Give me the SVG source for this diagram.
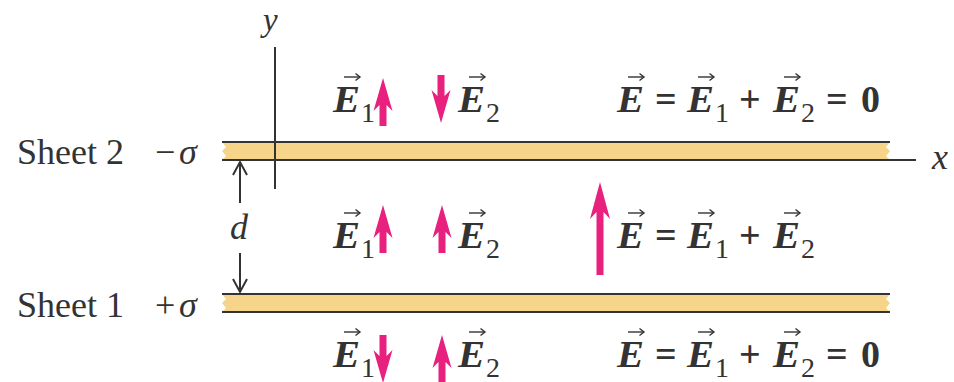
<svg xmlns="http://www.w3.org/2000/svg" width="954" height="382" viewBox="0 0 954 382">
<style>
.line{stroke:#333;stroke-width:2;fill:none}
.band{fill:#f6d48a;stroke:none}
.pink{fill:#e8217f}
.lbl{font-family:"Liberation Serif",serif;font-size:36px;fill:#333}
.it{font-family:"Liberation Serif",serif;font-style:italic;font-size:36px;fill:#333}
.ax{font-family:"Liberation Serif",serif;font-style:italic;font-size:33px;fill:#333}
.E{font-family:"Liberation Serif",serif;font-style:italic;font-weight:bold;font-size:37px;fill:#333}
.sub{font-family:"Liberation Serif",serif;font-size:28px;fill:#333}
.op{font-family:"Liberation Serif",serif;font-weight:bold;font-size:38px;fill:#333}
.vec{stroke:#333;stroke-width:1.4;fill:none}
</style>
<defs>
<path id="up48" d="M0,0 L9.5,33 L3.5,27 L3.5,48 L-3.5,48 L-3.5,27 L-9.5,33 Z"/>
<path id="dn48" d="M0,48 L9.5,15 L3.5,21 L3.5,0 L-3.5,0 L-3.5,21 L-9.5,15 Z"/>
<path id="up93" d="M0,0 L10,37 L3.5,30 L3.5,93 L-3.5,93 L-3.5,30 L-10,37 Z"/>
<g id="vec" class="vec"><line x1="0" y1="0" x2="16" y2="0"/><polyline points="11.5,-3.5 16,0 11.5,3.5"/></g>
</defs>
<rect width="954" height="382" fill="#fff"/>

<g id="sheet2">
<path class="band" d="M222,142 L890,142 L886,147 L890,151 L886,156 L890,160 L222,160 L226,156 L222,151 L226,147 Z"/>
<line class="line" x1="222" y1="142" x2="890" y2="142"/>
<line class="line" x1="222" y1="160" x2="916" y2="160"/>
<text class="lbl" x="17" y="164">Sheet 2</text>
<text class="lbl" x="155" y="164">−<tspan class="it" x="179">σ</tspan></text>
</g>

<g id="sheet1">
<path class="band" d="M222,294 L890,294 L886,299 L890,303 L886,308 L890,312 L222,312 L226,308 L222,303 L226,299 Z"/>
<line class="line" x1="222" y1="294" x2="890" y2="294"/>
<line class="line" x1="222" y1="312" x2="890" y2="312"/>
<text class="lbl" x="17" y="317">Sheet 1</text>
<text class="lbl" x="155" y="317">+<tspan class="it" x="179">σ</tspan></text>
</g>

<g id="axes">
<line class="line" x1="275" y1="47" x2="275" y2="189"/>
<text class="ax" x="263" y="31">y</text>
<text class="it" x="932" y="169">x</text>
</g>

<g id="connectors">
<line class="line" x1="240" y1="203" x2="240" y2="162"/>
<polyline class="line" points="233,175 240,162 247,175"/>
<line class="line" x1="240" y1="253" x2="240" y2="292"/>
<polyline class="line" points="233,279 240,292 247,279"/>
<text class="it" x="230" y="239">d</text>
</g>

<g id="field-arrows" class="pink">
<use href="#up48" x="383" y="78"/>
<use href="#dn48" x="441" y="75"/>
<use href="#up48" x="383" y="205"/>
<use href="#up48" x="442" y="205"/>
<use href="#up93" x="600" y="182"/>
<use href="#dn48" x="383" y="335"/>
<use href="#up48" x="442" y="335"/>
</g>

<g id="row1-labels">
<text class="E" x="333" y="112" textLength="27" lengthAdjust="spacingAndGlyphs">E</text><use href="#vec" x="344" y="77"/><text class="sub" x="361" y="122">1</text>
<text class="E" x="458" y="112" textLength="27" lengthAdjust="spacingAndGlyphs">E</text><use href="#vec" x="469" y="77"/><text class="sub" x="486" y="122">2</text>
<text class="E" x="617" y="112" textLength="27" lengthAdjust="spacingAndGlyphs">E</text><use href="#vec" x="628" y="77"/>
<text class="op" x="655" y="112">=</text>
<text class="E" x="687" y="112" textLength="27" lengthAdjust="spacingAndGlyphs">E</text><use href="#vec" x="698" y="77"/><text class="sub" x="715" y="122">1</text>
<text class="op" x="739" y="112">+</text>
<text class="E" x="773" y="112" textLength="27" lengthAdjust="spacingAndGlyphs">E</text><use href="#vec" x="784" y="77"/><text class="sub" x="801" y="122">2</text>
<text class="op" x="826" y="112">=</text>
<text class="op" x="861" y="112">0</text>
</g>

<g id="row2-labels">
<text class="E" x="333" y="248" textLength="27" lengthAdjust="spacingAndGlyphs">E</text><use href="#vec" x="344" y="213"/><text class="sub" x="361" y="258">1</text>
<text class="E" x="458" y="248" textLength="27" lengthAdjust="spacingAndGlyphs">E</text><use href="#vec" x="469" y="213"/><text class="sub" x="486" y="258">2</text>
<text class="E" x="617" y="248" textLength="27" lengthAdjust="spacingAndGlyphs">E</text><use href="#vec" x="628" y="213"/>
<text class="op" x="655" y="248">=</text>
<text class="E" x="687" y="248" textLength="27" lengthAdjust="spacingAndGlyphs">E</text><use href="#vec" x="698" y="213"/><text class="sub" x="715" y="258">1</text>
<text class="op" x="739" y="248">+</text>
<text class="E" x="773" y="248" textLength="27" lengthAdjust="spacingAndGlyphs">E</text><use href="#vec" x="784" y="213"/><text class="sub" x="801" y="258">2</text>
</g>

<g id="row3-labels">
<text class="E" x="333" y="367" textLength="27" lengthAdjust="spacingAndGlyphs">E</text><use href="#vec" x="344" y="332"/><text class="sub" x="361" y="377">1</text>
<text class="E" x="458" y="367" textLength="27" lengthAdjust="spacingAndGlyphs">E</text><use href="#vec" x="469" y="332"/><text class="sub" x="486" y="377">2</text>
<text class="E" x="617" y="367" textLength="27" lengthAdjust="spacingAndGlyphs">E</text><use href="#vec" x="628" y="332"/>
<text class="op" x="655" y="367">=</text>
<text class="E" x="687" y="367" textLength="27" lengthAdjust="spacingAndGlyphs">E</text><use href="#vec" x="698" y="332"/><text class="sub" x="715" y="377">1</text>
<text class="op" x="739" y="367">+</text>
<text class="E" x="773" y="367" textLength="27" lengthAdjust="spacingAndGlyphs">E</text><use href="#vec" x="784" y="332"/><text class="sub" x="801" y="377">2</text>
<text class="op" x="826" y="367">=</text>
<text class="op" x="861" y="367">0</text>
</g>
</svg>
